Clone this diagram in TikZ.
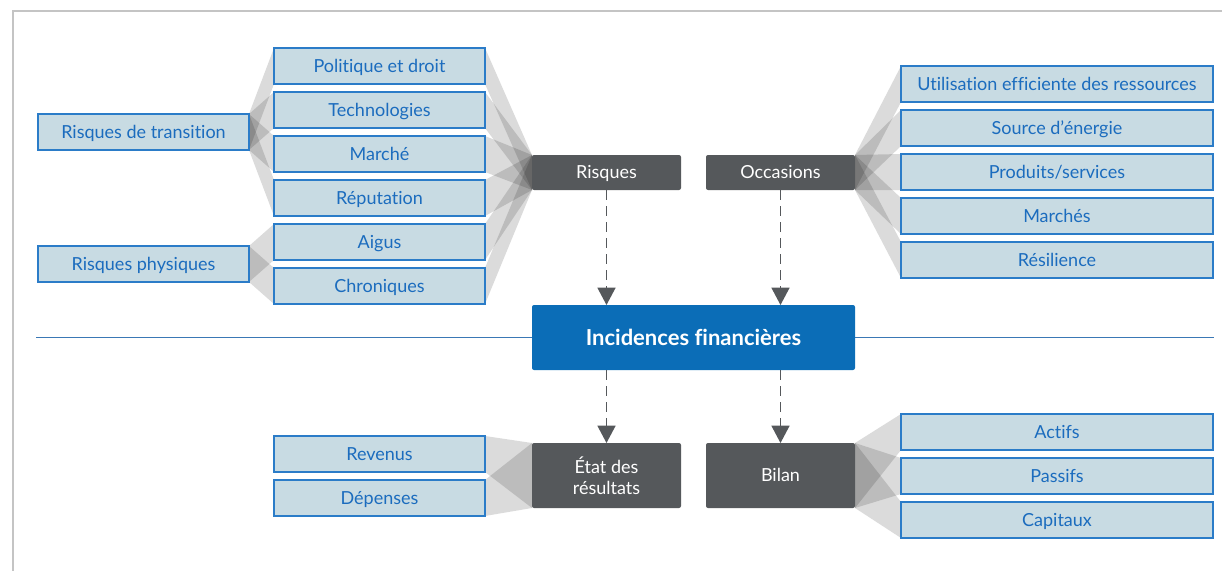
\documentclass[tikz,border=0pt]{standalone}
\usepackage{fontspec}
\setmainfont{Lato}[Ligatures={NoCommon,NoContextual}]
\usetikzlibrary{arrows.meta}
\pgfdeclarelayer{background}
\pgfsetlayers{background,main}
\definecolor{boxfill}{HTML}{C8DBE3}
\definecolor{boxline}{HTML}{2B7CC8}
\definecolor{boxtext}{HTML}{1B6CBE}
\definecolor{darkbox}{HTML}{55585B}
\definecolor{mainblue}{HTML}{0B6DB7}
\definecolor{divider}{HTML}{3A78B5}
\definecolor{framegray}{HTML}{C4C4C4}
\tikzset{
  every node/.style={inner sep=0pt, outer sep=0pt, text height=9.7pt, text depth=0pt,
                     font=\fontsize{13.5}{16}\selectfont},
  item/.style={draw=boxline, line width=1.1pt, fill=boxfill, text=boxtext,
               minimum width=158.25pt, minimum height=27pt},
  wideitem/.style={item, minimum width=234pt},
  hub/.style={fill=darkbox, text=white, rounded corners=1.5pt,
              minimum width=111.75pt, minimum height=26.25pt},
  tallhub/.style={hub, minimum height=48.75pt, align=center,
                  text height=, text depth=},
  band/.style={fill=black, fill opacity=0.14, draw=none},
  flow/.style={draw=darkbox, line width=1.1pt, dash pattern=on 7.5pt off 4.5pt,
               -{Triangle[width=13.5pt, length=13pt]}},
}
\begin{document}
\begin{tikzpicture}[x=0.75pt, y=-0.75pt]
\useasboundingbox (0,0) rectangle (1222,571);

% outer frame (top and left edges)
\draw[framegray, line width=2.2pt] (13,571) -- (13,11) -- (1222,11);

% divider behind the central box
\coordinate (divL) at (36,337.5);
\coordinate (divR) at (1214,337.5);
\draw[divider, line width=1.1pt] (divL) -- (divR);

% risk side
\node[item] (rt) at (143.5,132) {Risques de transition};
\node[item] (rp) at (143.5,264) {Risques physiques};
\node[item] (pol) at (379.5,66)  {Politique et droit};
\node[item] (tec) at (379.5,110) {Technologies};
\node[item] (mar) at (379.5,154) {Marché};
\node[item] (rep) at (379.5,198) {Réputation};
\node[item] (aig) at (379.5,242) {Aigus};
\node[item] (chr) at (379.5,286) {Chroniques};

\node[hub] (ris) at (606.5,172.5) {Risques};
\node[hub] (occ) at (780.5,172.5) {Occasions};

% opportunity side
\node[wideitem] (uti) at (1057,84)  {Utilisation efficiente des ressources};
\node[wideitem] (src) at (1057,128) {Source d’énergie};
\node[wideitem] (pro) at (1057,172) {Produits/services};
\node[wideitem] (mch) at (1057,216) {Marchés};
\node[wideitem] (res) at (1057,260) {Résilience};

% financial impact
\node[fill=mainblue, text=white, rounded corners=1.5pt, minimum width=242.25pt,
      minimum height=48.75pt, text height=11.9pt,
      font=\fontsize{16.5}{19}\selectfont\bfseries]
      (inc) at (693.5,337.5) {Incidences financières};

\node[tallhub] (eta) at (606.5,475.5) {État des\\résultats};
\node[hub, minimum height=48.75pt] (bil) at (780.5,475.5) {Bilan};

\node[item] (rev) at (379.5,454) {Revenus};
\node[item] (dep) at (379.5,498) {Dépenses};

\node[wideitem] (act) at (1057,432) {Actifs};
\node[wideitem] (pas) at (1057,476) {Passifs};
\node[wideitem] (cap) at (1057,520) {Capitaux};

% translucent bands: source right edge to target left edge
\begin{pgfonlayer}{background}
  \foreach \a/\b in {rt/pol, rt/tec, rt/mar, rt/rep, rp/aig, rp/chr,
                     pol/ris, tec/ris, mar/ris, rep/ris, aig/ris, chr/ris,
                     occ/uti, occ/src, occ/pro, occ/mch, occ/res,
                     rev/eta, dep/eta,
                     bil/act, bil/pas, bil/cap}
    \fill[band] (\a.north east) -- (\b.north west) -- (\b.south west)
                -- (\a.south east) -- cycle;
\end{pgfonlayer}

% dashed flows
\draw[flow] (ris.south) -- (ris.south |- inc.north);
\draw[flow] (occ.south) -- (occ.south |- inc.north);
\draw[flow] (inc.south -| eta.north) -- (eta.north);
\draw[flow] (inc.south -| bil.north) -- (bil.north);
\end{tikzpicture}
\end{document}
